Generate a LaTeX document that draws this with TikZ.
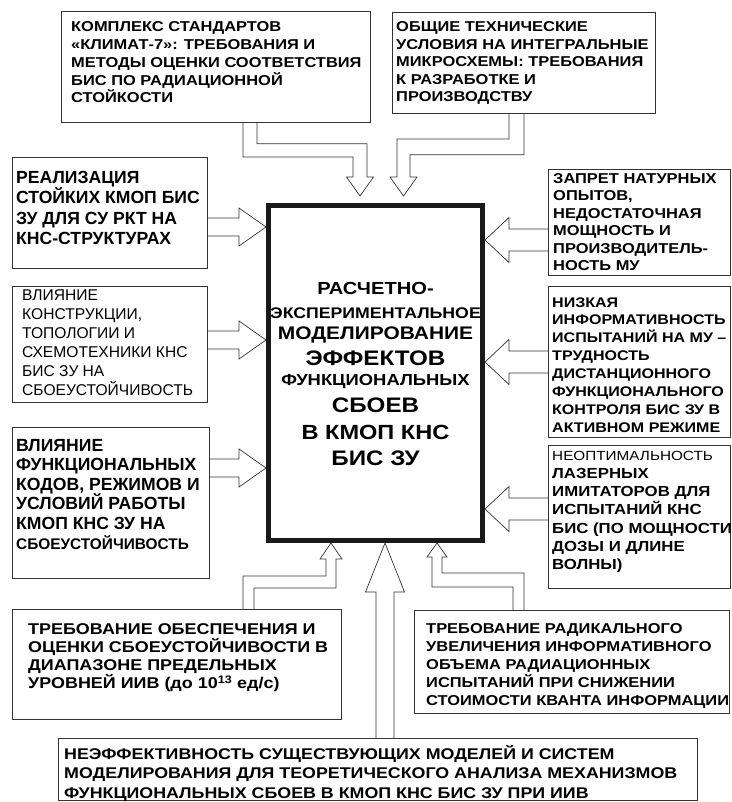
\documentclass[tikz,border=0pt]{standalone}
\usepackage{fontspec}
\setmainfont{Liberation Sans}
\newfontfamily\widefont[FakeStretch=1.15]{Liberation Sans}
\usetikzlibrary{calc}

% hollow arrows from a side box into the main box
\newcommand{\hollowright}[2]{%
  \draw[hollow] ($(#1.east |- #2)+(0,-9)$) -- ($(#2)+(-27,-9)$) -- ($(#2)+(-27,-19)$)
    -- (#2) -- ($(#2)+(-27,19)$) -- ($(#2)+(-27,9)$) -- ($(#1.east |- #2)+(0,9)$);}
\newcommand{\hollowleft}[2]{%
  \draw[hollow] ($(#1.west |- #2)+(0,-11)$) -- ($(#2)+(24,-11)$) -- ($(#2)+(24,-22.5)$)
    -- (#2) -- ($(#2)+(24,22.5)$) -- ($(#2)+(24,11)$) -- ($(#1.west |- #2)+(0,11)$);}

\begin{document}
\begin{tikzpicture}[x=1pt, y=-1pt,
  panel/.style={draw=black!80, line width=0.8pt, inner sep=0pt, anchor=north west},
  paneltext/.style={anchor=base west, inner sep=0pt, align=left}, % placed by last baseline
  hollow/.style={draw=black!80, line width=0.7pt},
  mainbox/.style={draw=black!90, line width=5pt, inner sep=0pt},
  titleline/.style={anchor=base, inner sep=0pt}]
  \fill[white] (0,0) rectangle (731,802);
  \useasboundingbox (0,0) rectangle (731,802);

  % main box
  \node[mainbox, minimum width=214pt, minimum height=335pt] (main) at (375.5,373) {};
  \foreach \yb/\fs/\txt [count=\i] in {294.5/17.5/РАСЧЕТНО-, 318.5/15.4/ЭКСПЕРИМЕНТАЛЬНОЕ,
      339.5/18.2/МОДЕЛИРОВАНИЕ, 365/21/ЭФФЕКТОВ, 385.5/16/ФУНКЦИОНАЛЬНЫХ,
      412.5/21/СБОЕВ, 439.5/20.5/В КМОП КНС, 465.5/21/БИС ЗУ}
    \node[titleline, font=\widefont\bfseries\fontsize{\fs}{\fs}\selectfont] (title-\i) at (375.5,\yb) {\txt};

  % top boxes
  \node[panel, minimum width=309pt, minimum height=111pt] (kompleks) at (61,11) {};
  \node[paneltext, font=\widefont\bfseries\fontsize{14.3}{17.7}\selectfont] (kompleks-t) at (71,102.8)
    {КОМПЛЕКС СТАНДАРТОВ\\«КЛИМАТ-7»: ТРЕБОВАНИЯ И\\МЕТОДЫ ОЦЕНКИ СООТВЕТСТВИЯ\\БИС ПО РАДИАЦИОННОЙ\\СТОЙКОСТИ};
  \node[panel, minimum width=263pt, minimum height=101pt] (obshie) at (392,12) {};
  \node[paneltext, font=\widefont\bfseries\fontsize{14.3}{17.5}\selectfont] (obshie-t) at (396,102)
    {ОБЩИЕ ТЕХНИЧЕСКИЕ\\УСЛОВИЯ НА ИНТЕГРАЛЬНЫЕ\\МИКРОСХЕМЫ: ТРЕБОВАНИЯ\\К РАЗРАБОТКЕ И\\ПРОИЗВОДСТВУ};

  % left boxes
  \node[panel, minimum width=195pt, minimum height=111pt] (realiz) at (12,157) {};
  \node[paneltext, font=\bfseries\fontsize{17.6}{20.6}\selectfont] (realiz-t) at (16,244.8)
    {РЕАЛИЗАЦИЯ\\СТОЙКИХ КМОП БИС\\ЗУ ДЛЯ СУ РКТ НА\\КНС-СТРУКТУРАХ};
  \node[panel, minimum width=195pt, minimum height=116pt] (konstr) at (12,286) {};
  \node[paneltext, font=\fontsize{15.6}{19}\selectfont] (konstr-t) at (22,395)
    {ВЛИЯНИЕ\\КОНСТРУКЦИИ,\\ТОПОЛОГИИ И\\СХЕМОТЕХНИКИ КНС\\БИС ЗУ НА\\СБОЕУСТОЙЧИВОСТЬ};
  \node[panel, minimum width=197pt, minimum height=151pt] (funkc) at (12,427) {};
  \node[paneltext, font=\bfseries\fontsize{17.6}{19.6}\selectfont] (funkc-t) at (16,549)
    {ВЛИЯНИЕ\\ФУНКЦИОНАЛЬНЫХ\\КОДОВ, РЕЖИМОВ И\\УСЛОВИЙ РАБОТЫ\\КМОП КНС ЗУ НА\\{\fontsize{15.4}{19.6}\selectfont СБОЕУСТОЙЧИВОСТЬ}};

  % right boxes
  \node[panel, minimum width=182pt, minimum height=106pt] (zapret) at (548,169) {};
  \node[paneltext, font=\widefont\bfseries\fontsize{14.3}{17.5}\selectfont] (zapret-t) at (553,270.5)
    {ЗАПРЕТ НАТУРНЫХ\\ОПЫТОВ,\\НЕДОСТАТОЧНАЯ\\МОЩНОСТЬ И\\ПРОИЗВОДИТЕЛЬ-\\НОСТЬ МУ};
  \node[panel, minimum width=182pt, minimum height=151pt] (nizkaya) at (548,286) {};
  \node[paneltext, font=\widefont\bfseries\fontsize{13.95}{17.9}\selectfont] (nizkaya-t) at (552,432.3)
    {НИЗКАЯ\\ИНФОРМАТИВНОСТЬ\\ИСПЫТАНИЙ НА МУ –\\ТРУДНОСТЬ\\ДИСТАНЦИОННОГО\\ФУНКЦИОНАЛЬНОГО\\КОНТРОЛЯ БИС ЗУ В\\АКТИВНОМ РЕЖИМЕ};
  \node[panel, minimum width=182pt, minimum height=143pt] (neopt) at (548,445) {};
  \node[paneltext, font=\widefont\bfseries\fontsize{14.6}{18.3}\selectfont] (neopt-t) at (552,569.8)
    {{\mdseries\fontsize{13.3}{18.3}\selectfont НЕОПТИМАЛЬНОСТЬ}\\ЛАЗЕРНЫХ\\ИМИТАТОРОВ ДЛЯ\\ИСПЫТАНИЙ КНС\\БИС (ПО МОЩНОСТИ\\ДОЗЫ И ДЛИНЕ\\ВОЛНЫ)};

  % bottom boxes
  \node[panel, minimum width=329pt, minimum height=110pt] (trebob) at (12,609) {};
  \node[paneltext, font=\widefont\bfseries\fontsize{15.6}{18.3}\selectfont] (trebob-t) at (28,688.9)
    {ТРЕБОВАНИЕ ОБЕСПЕЧЕНИЯ И\\ОЦЕНКИ СБОЕУСТОЙЧИВОСТИ В\\ДИАПАЗОНЕ ПРЕДЕЛЬНЫХ\\УРОВНЕЙ ИИВ (до 10\textsuperscript{13} ед/с)};
  \node[panel, minimum width=315pt, minimum height=103pt] (trebrad) at (414,610) {};
  \node[paneltext, font=\widefont\bfseries\fontsize{14.3}{18}\selectfont] (trebrad-t) at (426,705)
    {ТРЕБОВАНИЕ РАДИКАЛЬНОГО\\УВЕЛИЧЕНИЯ ИНФОРМАТИВНОГО\\ОБЪЕМА РАДИАЦИОННЫХ\\ИСПЫТАНИЙ ПРИ СНИЖЕНИИ\\СТОИМОСТИ КВАНТА ИНФОРМАЦИИ};
  \node[panel, minimum width=639pt, minimum height=62pt] (neeff) at (58,738) {};
  \node[paneltext, font=\widefont\bfseries\fontsize{15.5}{19.5}\selectfont] (neeff-t) at (64,798)
    {НЕЭФФЕКТИВНОСТЬ СУЩЕСТВУЮЩИХ МОДЕЛЕЙ И СИСТЕМ\\МОДЕЛИРОВАНИЯ ДЛЯ ТЕОРЕТИЧЕСКОГО АНАЛИЗА МЕХАНИЗМОВ\\ФУНКЦИОНАЛЬНЫХ СБОЕВ В КМОП КНС БИС ЗУ ПРИ ИИВ};

  % arrow tips on the main box
  \coordinate (tL1) at ($(main.west)+(0,-146)$);
  \coordinate (tL2) at ($(main.west)+(0,-33)$);
  \coordinate (tL3) at ($(main.west)+(0,95)$);
  \coordinate (tR1) at ($(main.east)+(0,-133)$);
  \coordinate (tR2) at ($(main.east)+(0,-11)$);
  \coordinate (tR3) at ($(main.east)+(0,136)$);

  \hollowright{realiz}{tL1}
  \hollowright{konstr}{tL2}
  \hollowright{funkc}{tL3}
  \hollowleft{zapret}{tR1}
  \hollowleft{nizkaya}{tR2}
  \hollowleft{neopt}{tR3}

  % bent arrows from the top
  \coordinate (t1s) at ($(kompleks.south west)+(189,0)$);
  \coordinate (t1e) at ($(main.north)+(-15.5,-7)$);
  \draw[hollow] ($(t1s)+(-7,0)$) |- ($(t1e)+(-7,-39)$) -- ($(t1e)+(-7,-19)$) -- ($(t1e)+(-13.5,-19)$)
    -- (t1e) -- ($(t1e)+(13.5,-19)$) -- ($(t1e)+(7,-19)$) |- ($(t1s)+(7,21)$) -- ($(t1s)+(7,0)$);
  \coordinate (t2s) at ($(obshie.south west)+(124.5,0)$);
  \coordinate (t2e) at ($(main.north)+(28,-7)$);
  \draw[hollow] ($(t2s)+(-7.5,0)$) |- ($(t2e)+(-6.5,-57)$) -- ($(t2e)+(-6.5,-19)$) -- ($(t2e)+(-13.5,-19)$)
    -- (t2e) -- ($(t2e)+(13.5,-19)$) -- ($(t2e)+(6.5,-19)$) |- ($(t2s)+(7.5,41)$) -- ($(t2s)+(7.5,0)$);

  % arrows from the bottom
  \coordinate (t3s) at ($(trebob.north west)+(236.5,0)$);
  \coordinate (t3e) at ($(main.south)+(-44.5,0)$);
  \draw[hollow] ($(t3s)+(-5.5,0)$) |- ($(t3e)+(-5,33)$) -- ($(t3e)+(-5,16)$) -- ($(t3e)+(-11,16)$)
    -- (t3e) -- ($(t3e)+(11,16)$) -- ($(t3e)+(5,16)$) |- ($(t3s)+(5.5,-21)$) -- ($(t3s)+(5.5,0)$);
  \coordinate (t4s) at ($(neeff.north west)+(327,0)$);
  \coordinate (t4e) at ($(main.south)+(9.5,0)$);
  \draw[hollow] ($(t4s)+(-9,0)$) -- ($(t4e)+(-9,49)$) -- ($(t4e)+(-19.5,49)$)
    -- (t4e) -- ($(t4e)+(19.5,49)$) -- ($(t4e)+(9,49)$) -- ($(t4s)+(9,0)$);
  \coordinate (t5s) at ($(trebrad.north west)+(104.5,0)$);
  \coordinate (t5e) at ($(main.south)+(61.5,0)$);
  \draw[hollow] ($(t5s)+(-5.5,0)$) |- ($(t5e)+(-5,44)$) -- ($(t5e)+(-5,14)$) -- ($(t5e)+(-10,14)$)
    -- (t5e) -- ($(t5e)+(10,14)$) -- ($(t5e)+(5,14)$) |- ($(t5s)+(5.5,-37)$) -- ($(t5s)+(5.5,0)$);
\end{tikzpicture}
\end{document}
